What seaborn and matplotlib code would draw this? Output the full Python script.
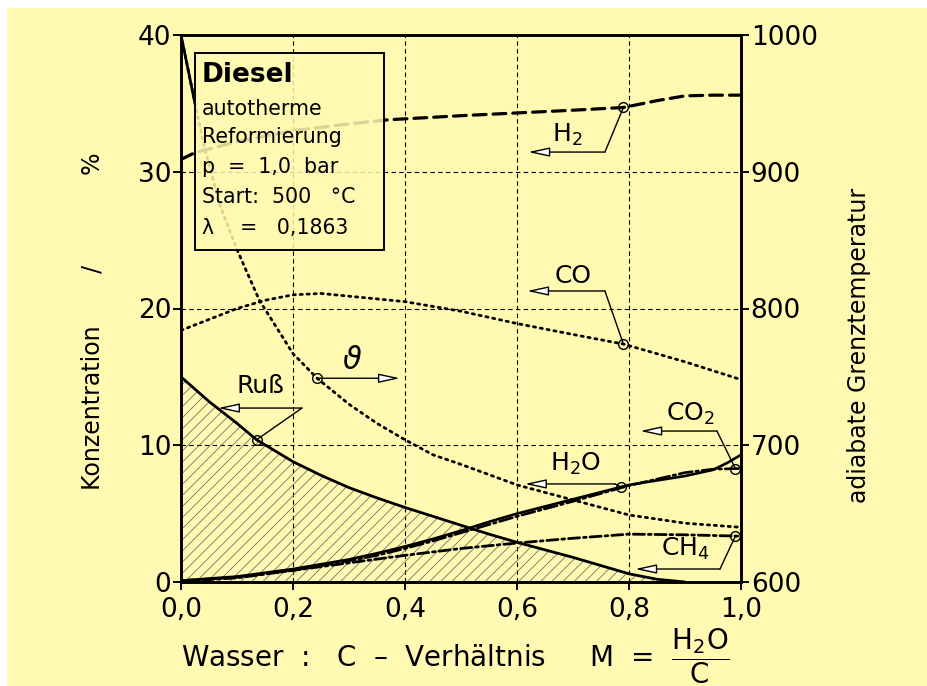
import numpy as np
import pandas as pd
import matplotlib
matplotlib.use("Agg")
import matplotlib.pyplot as plt
import seaborn as sns
from matplotlib.patches import Rectangle

# ---------------- data ----------------
x_russ = [0.0, 0.05, 0.1, 0.135, 0.2, 0.25, 0.3, 0.35, 0.4, 0.45, 0.5, 0.55, 0.6, 0.65, 0.7, 0.75, 0.8, 0.85, 0.9]
russ = [15.0, 13.2, 11.6, 10.4, 8.8, 7.8, 6.9, 6.15, 5.45, 4.8, 4.15, 3.5, 2.9, 2.35, 1.8, 1.2, 0.6, 0.2, 0.0]

x_h2 = [0.0, 0.025, 0.1, 0.2, 0.3, 0.37, 0.5, 0.6, 0.7, 0.79, 0.85, 0.9, 0.95, 1.0]
h2 = [30.9, 31.4, 32.2, 33.0, 33.5, 33.8, 34.1, 34.3, 34.5, 34.7, 35.2, 35.55, 35.6, 35.6]

x_co = [0.0, 0.05, 0.1, 0.15, 0.2, 0.25, 0.3, 0.4, 0.5, 0.6, 0.7, 0.79, 0.9, 1.0]
co = [18.4, 19.2, 20.0, 20.6, 21.0, 21.1, 20.9, 20.5, 19.8, 18.9, 18.1, 17.4, 16.1, 14.8]

x_h2o = [0.0, 0.1, 0.2, 0.3, 0.35, 0.4, 0.45, 0.5, 0.55, 0.6, 0.7, 0.8, 0.9, 0.95, 0.975, 1.0]
h2o = [0.1, 0.4, 0.95, 1.65, 2.1, 2.6, 3.15, 3.75, 4.4, 5.0, 6.05, 7.1, 7.75, 8.2, 8.7, 9.3]

x_co2 = [0.0, 0.1, 0.2, 0.3, 0.35, 0.4, 0.45, 0.5, 0.55, 0.6, 0.7, 0.8, 0.9, 0.95, 1.0]
co2 = [0.1, 0.35, 0.85, 1.55, 1.95, 2.45, 3.0, 3.6, 4.2, 4.8, 5.9, 7.05, 8.0, 8.25, 8.3]

x_ch4 = [0.0, 0.1, 0.2, 0.3, 0.4, 0.5, 0.6, 0.7, 0.8, 0.9, 1.0]
ch4 = [0.05, 0.3, 0.85, 1.4, 1.95, 2.45, 2.85, 3.2, 3.5, 3.45, 3.35]

x_theta = [0.0, 0.025, 0.043, 0.07, 0.1, 0.14, 0.2, 0.243, 0.3, 0.35, 0.4, 0.45, 0.5, 0.6, 0.7, 0.8, 0.9, 1.0]
theta = [1000, 950, 916, 875, 843, 806, 767, 749, 730, 716, 704, 693, 686, 671, 660, 649, 643, 640]

x_ticks = [0.0, 0.2, 0.4, 0.6, 0.8, 1.0]
x_ticklabels = ["0,0", "0,2", "0,4", "0,6", "0,8", "1,0"]
left_ticks = [0, 10, 20, 30, 40]
right_ticks = [600, 700, 800, 900, 1000]

info_title = "Diesel"
info_lines = ["autotherme", "Reformierung", "p  =  1,0  bar", "Start:  500   °C", "λ    =   0,1863"]

# ---------------- style ----------------
BG = "#FFF9B2"
sns.set_theme(style="ticks")
plt.rcParams.update({
    "font.family": ["DejaVu Sans"],
    "mathtext.fontset": "dejavusans",
    "axes.facecolor": BG,
    "figure.facecolor": BG,
    "savefig.facecolor": BG,
    "hatch.linewidth": 0.55,
    "hatch.color": "#666666",
    "axes.edgecolor": "black",
    "axes.labelcolor": "black",
    "text.color": "black",
    "xtick.color": "black",
    "ytick.color": "black",
})

fig = plt.figure(figsize=(9.28, 6.86), dpi=100)
ax = fig.add_axes([181 / 928, 1 - 582 / 686, 560 / 928, 547 / 686])
ax2 = ax.twinx()
ax.set_zorder(ax2.get_zorder() + 1)
ax.patch.set_visible(False)
ax2.patch.set_facecolor(BG)

# white margins of the scanned page
fig.add_artist(Rectangle((0, 1 - 8 / 686), 1, 8 / 686, transform=fig.transFigure,
                         fc="white", ec="none", zorder=-5))
fig.add_artist(Rectangle((0, 0), 7 / 928, 1, transform=fig.transFigure,
                         fc="white", ec="none", zorder=-5))


def line(xv, yv, axis, ls, lw, z=3):
    df = pd.DataFrame({"x": xv, "y": yv})
    sns.lineplot(data=df, x="x", y="y", ax=axis, color="black", lw=lw,
                 linestyle=ls, zorder=z, sort=False)
    axis.lines[-1].set_linestyle(ls)
    axis.lines[-1].set_dash_capstyle("round")


# soot area
ax.fill_between(x_russ, russ, 0, facecolor="none", hatch="///",
                edgecolor="#666666", linewidth=0, zorder=1)

line(x_russ, russ, ax, "-", 2.0)
line(x_h2, h2, ax, (0, (4, 2.2)), 2.3)
line(x_co, co, ax, (0, (0.8, 1.7)), 2.0)
line(x_h2o, h2o, ax, "-", 1.9)
line(x_co2, co2, ax, (0, (5, 1.4, 1, 1.4)), 1.9)
line(x_ch4, ch4, ax, (0, (4, 1.4, 1, 1.4)), 2.0)

# temperature on right axis
line(x_theta, theta, ax2, (0, (0.8, 1.7)), 2.0)
line(x_theta[:2], theta[:2], ax2, "-", 2.0)

# ---------------- axes ----------------
ax.set_xlim(0, 1)
ax.set_ylim(0, 40)
ax2.set_ylim(600, 1000)
ax.set_xticks(x_ticks)
ax.set_xticklabels(x_ticklabels)
ax.set_yticks(left_ticks)
ax2.set_yticks(right_ticks)
for a in (ax, ax2):
    for s in a.spines.values():
        s.set_linewidth(1.9)
        s.set_color("black")
ax.tick_params(axis="y", direction="out", length=6, width=1.4, labelsize=19, pad=1)
ax.tick_params(axis="x", direction="out", length=6, width=1.4, labelsize=19, pad=5)
ax2.tick_params(axis="y", direction="out", length=6, width=1.4, labelsize=19, pad=1)
ax.grid(True, color="black", linestyle=(0, (4, 3)), linewidth=0.8)
for gl in ax.get_xgridlines() + ax.get_ygridlines():
    gl.set_zorder(0.5)

ax.set_ylabel("Konzentration       /            %", fontsize=17)
ax.yaxis.set_label_coords(-0.137, 0.477)
ax2.set_ylabel("adiabate Grenztemperatur", fontsize=17, rotation=90)
ax2.yaxis.set_label_coords(1.19, 0.433)
ax.set_xlabel(r"Wasser  :   C  –  Verhältnis     M  =  $\dfrac{\mathrm{H_2O}}{\mathrm{C}}$", fontsize=20)
ax.xaxis.set_label_coords(0.49, -0.082)

# ---------------- info box ----------------
ax.add_patch(Rectangle((0.025, 0.607), 0.3375, 0.36, transform=ax.transAxes,
                       fc=BG, ec="black", lw=1.3, alpha=0.85, zorder=6))
ax.add_patch(Rectangle((0.025, 0.607), 0.3375, 0.36, transform=ax.transAxes,
                       fc="none", ec="black", lw=1.3, zorder=7))
ax.text(0.0375, 0.927, info_title, transform=ax.transAxes, fontsize=19,
        fontweight="bold", va="center", ha="left", zorder=8)
for yy, t in zip([0.865, 0.813, 0.758, 0.703, 0.648], info_lines):
    ax.text(0.0375, yy, t, transform=ax.transAxes, fontsize=14.8,
            va="center", ha="left", zorder=8)

# ---------------- annotations ----------------
arrow_kw = dict(arrowstyle="-|>,head_length=1.3,head_width=0.28", lw=1.0,
                fc="white", ec="black", shrinkA=0, shrinkB=0, mutation_scale=10)


def pointer(px, py, corner, tip, label, tpos, trans=None, tsize=18):
    tr = ax.transData if trans is None else trans
    ax.plot([px], [py], marker="o", ms=7, mfc="none", mec="black", mew=1.0,
            transform=tr, zorder=9, clip_on=False)
    if trans is not None:
        disp = trans.transform((px, py))
        px, py = ax.transData.inverted().transform(disp)
    start = (px, py)
    if corner is not None:
        ax.plot([px, corner[0]], [py, corner[1]], color="black", lw=1.0, zorder=9)
        start = corner
    ax.annotate("", xy=tip, xytext=start, arrowprops=arrow_kw, zorder=9)
    ax.text(tpos[0], tpos[1], label, fontsize=tsize, ha="center", va="center", zorder=9)


pointer(0.79, np.interp(0.79, x_h2, h2), (0.757, 31.44), (0.62, 31.44), r"H$_2$", (0.689, 32.7))
pointer(0.79, np.interp(0.79, x_co, co), (0.757, 21.28), (0.618, 21.28), "CO", (0.70, 22.4))
pointer(0.135, np.interp(0.135, x_russ, russ), (0.216, 12.72), (0.066, 12.72), "Ruß", (0.141, 14.3))
pointer(0.786, np.interp(0.786, x_h2o, h2o), (0.775, 7.17), (0.614, 7.17), r"H$_2$O", (0.704, 8.6))
pointer(0.99, np.interp(0.99, x_co2, co2), (0.957, 11.04), (0.82, 11.04), r"CO$_2$", (0.909, 12.3))
pointer(0.99, np.interp(0.99, x_ch4, ch4), (0.9625, 0.95), (0.811, 0.95), r"CH$_4$", (0.90, 2.4))
th_c = np.interp(0.243, x_theta, theta)
pointer(0.243, th_c, None, (0.391, (th_c - 600) / 10), r"$\vartheta$", (0.305, 16.2),
        trans=ax2.transData, tsize=22)

fig.savefig("out.png", dpi=100)
